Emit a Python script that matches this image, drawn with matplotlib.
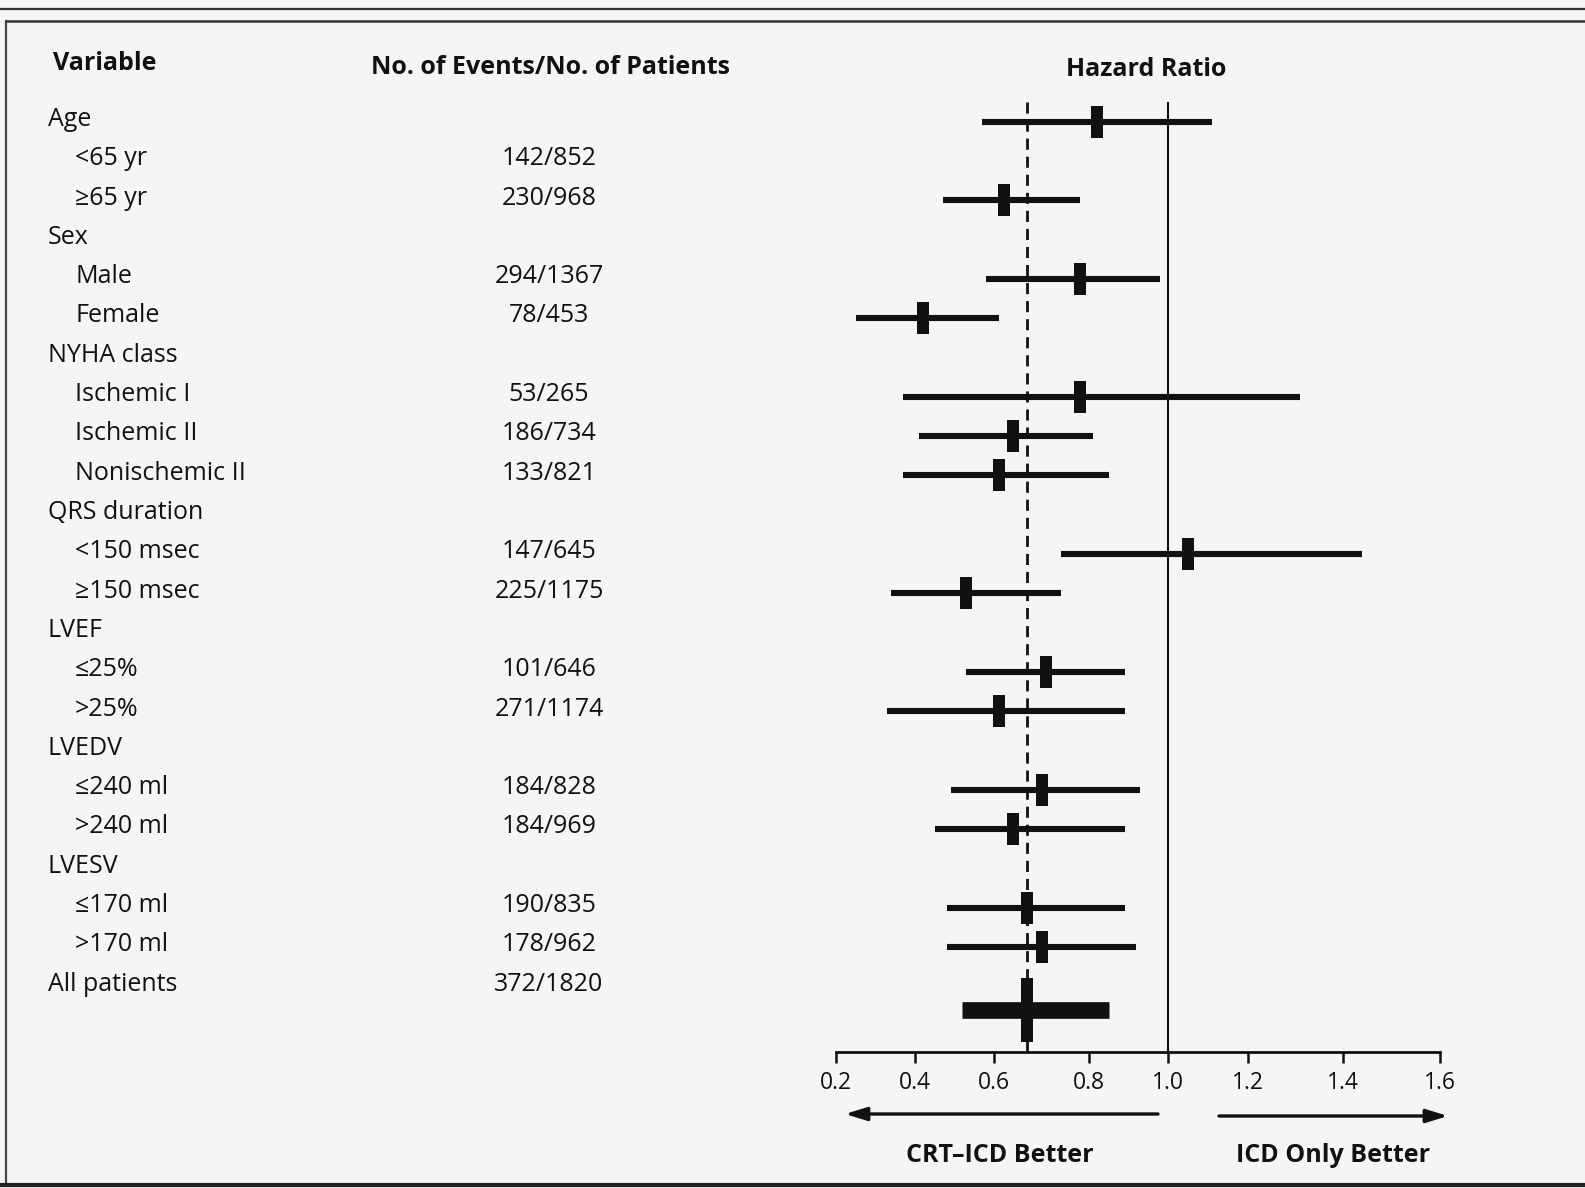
import numpy as np
import matplotlib
matplotlib.use("Agg")
import matplotlib.pyplot as plt

plt.rcParams['font.family'] = ['Open Sans', 'DejaVu Sans']

W, H = 1585, 1188
DPI = 100

# ---------------- data ----------------
row_labels = ["Age", "<65 yr", "\u226565 yr", "Sex", "Male", "Female", "NYHA class",
              "Ischemic I", "Ischemic II", "Nonischemic II", "QRS duration",
              "<150 msec", "\u2265150 msec", "LVEF", "\u226425%", ">25%", "LVEDV",
              "\u2264240 ml", ">240 ml", "LVESV", "\u2264170 ml", ">170 ml", "All patients"]
is_header = [1, 0, 0, 1, 0, 0, 1, 0, 0, 0, 1, 0, 0, 1, 0, 0, 1, 0, 0, 1, 0, 0, 1]
events = ["", "142/852", "230/968", "", "294/1367", "78/453", "", "53/265", "186/734",
          "133/821", "", "147/645", "225/1175", "", "101/646", "271/1174", "",
          "184/828", "184/969", "", "190/835", "178/962", "372/1820"]

# hazard ratios (as drawn) with 95% CI
hr_row = [0, 2, 4, 5, 7, 8, 9, 11, 12, 14, 15, 17, 18, 20, 21, 22.6]
hr = [0.82, 0.62, 0.78, 0.42, 0.78, 0.64, 0.61, 1.05, 0.53, 0.71, 0.61, 0.70, 0.64, 0.67, 0.70, 0.67]
ci_lo = [0.57, 0.47, 0.58, 0.25, 0.37, 0.41, 0.37, 0.74, 0.34, 0.53, 0.33, 0.49, 0.45, 0.48, 0.48, 0.52]
ci_hi = [1.11, 0.78, 0.98, 0.61, 1.31, 0.81, 0.85, 1.44, 0.74, 0.89, 0.89, 0.93, 0.89, 0.89, 0.92, 0.85]
overall_hr = 0.67

xticks = [0.2, 0.4, 0.6, 0.8, 1.0, 1.2, 1.4, 1.6]
xtick_labels = ["0.2", "0.4", "0.6", "0.8", "1.0", "1.2", "1.4", "1.6"]

# ---------------- layout ----------------
# horizontal pixel positions of the printed (unevenly spaced) ticks
tick_px = np.array([836, 915, 994, 1089, 1168, 1248, 1343, 1440], dtype=float)
row_y0, row_dy = 116.0, 39.3
text_off = 3.5
bar_off = 5.5
ax_top_px, ax_bot_px = 102.0, 1052.0

def row_y(i):
    return row_y0 + np.asarray(i, dtype=float) * row_dy

fig = plt.figure(figsize=(W / DPI, H / DPI), dpi=DPI)
fig.patch.set_facecolor('#f5f5f4')

# text / frame layer in pixel coordinates
tx = fig.add_axes([0, 0, 1, 1])
tx.set_xlim(0, W)
tx.set_ylim(H, 0)
tx.axis('off')
tx.patch.set_alpha(0)

ink = '#111111'
# frame lines
tx.plot([0, W], [9, 9], color='#333333', lw=1.6, solid_capstyle='butt')
tx.plot([6, W], [21, 21], color='#333333', lw=1.8, solid_capstyle='butt')
tx.plot([6, 6], [21, 1185], color='#444444', lw=1.6)
tx.plot([0, W], [1185, 1185], color='#222222', lw=3.0, solid_capstyle='butt')

fs = 18
tx.text(53, 64, "Variable", fontsize=fs, fontweight='bold', color=ink, va='center', ha='left')
tx.text(371, 67, "No. of Events/No. of Patients", fontsize=fs, fontweight='bold',
        color=ink, va='center', ha='left')
tx.text(1146, 70, "Hazard Ratio", fontsize=fs, fontweight='bold', color=ink,
        va='center', ha='center')

for i, (lab, hd, ev) in enumerate(zip(row_labels, is_header, events)):
    y = row_y(i) + text_off
    tx.text(48 if hd else 75, y, lab, fontsize=fs, color=ink, va='center', ha='left')
    if ev:
        tx.text(549, y, ev, fontsize=fs, color=ink, va='center', ha='center')

# arrows and direction labels
tx.annotate("", xy=(845, 1114), xytext=(1158, 1114),
            arrowprops=dict(arrowstyle='-|>,head_length=1.3,head_width=0.4', lw=2.4,
                            color=ink, shrinkA=0, shrinkB=0))
tx.annotate("", xy=(1448, 1116), xytext=(1219, 1116),
            arrowprops=dict(arrowstyle='-|>,head_length=1.3,head_width=0.4', lw=2.4,
                            color=ink, shrinkA=0, shrinkB=0))
tx.text(1000, 1155, "CRT\u2013ICD Better", fontsize=fs, fontweight='bold', color=ink,
        va='center', ha='center')
tx.text(1333, 1156, "ICD Only Better", fontsize=fs, fontweight='bold', color=ink,
        va='center', ha='center')

# forest axes
left = tick_px[0] / W
width = (tick_px[-1] - tick_px[0]) / W
bottom = (H - ax_bot_px) / H
height = (ax_bot_px - ax_top_px) / H
ax = fig.add_axes([left, bottom, width, height])
ax.patch.set_alpha(0)

def fwd(x):
    return np.interp(x, xticks, tick_px)

def inv(p):
    return np.interp(p, tick_px, xticks)

ax.set_xscale('function', functions=(fwd, inv))
ax.set_xlim(xticks[0], xticks[-1])
ax.set_ylim(ax_bot_px, ax_top_px)

for s in ['left', 'right', 'top']:
    ax.spines[s].set_visible(False)
ax.spines['bottom'].set_linewidth(2.0)
ax.spines['bottom'].set_color(ink)
ax.set_yticks([])
ax.set_xticks(xticks)
ax.set_xticklabels(xtick_labels)
ax.tick_params(axis='x', direction='out', length=8, width=1.8, color=ink,
               labelsize=16.5, labelcolor=ink, pad=6)
ax.minorticks_off()

# reference lines
ax.axvline(1.0, color=ink, lw=1.5, zorder=1)
ax.plot([overall_hr, overall_hr], [ax_bot_px, ax_top_px], color=ink, lw=2.0,
        dashes=(4, 2.5), zorder=1)

rect_small = [(-6, -16), (6, -16), (6, 16), (-6, 16), (-6, -16)]
rect_big = [(-3, -16), (3, -16), (3, 16), (-3, 16), (-3, -16)]
ys = row_y(hr_row) + bar_off
n = len(hr)
for k in range(n):
    big = (k == n - 1)
    ax.plot([ci_lo[k], ci_hi[k]], [ys[k], ys[k]], color=ink,
            lw=12 if big else 4.4, solid_capstyle='butt', zorder=3)
    ax.plot([hr[k]], [ys[k]], marker=rect_big if big else rect_small,
            ms=46 if big else 23.5,
            color=ink, mec=ink, mew=0, linestyle='none', zorder=4)

fig.savefig("out.png", dpi=DPI, facecolor=fig.get_facecolor())
